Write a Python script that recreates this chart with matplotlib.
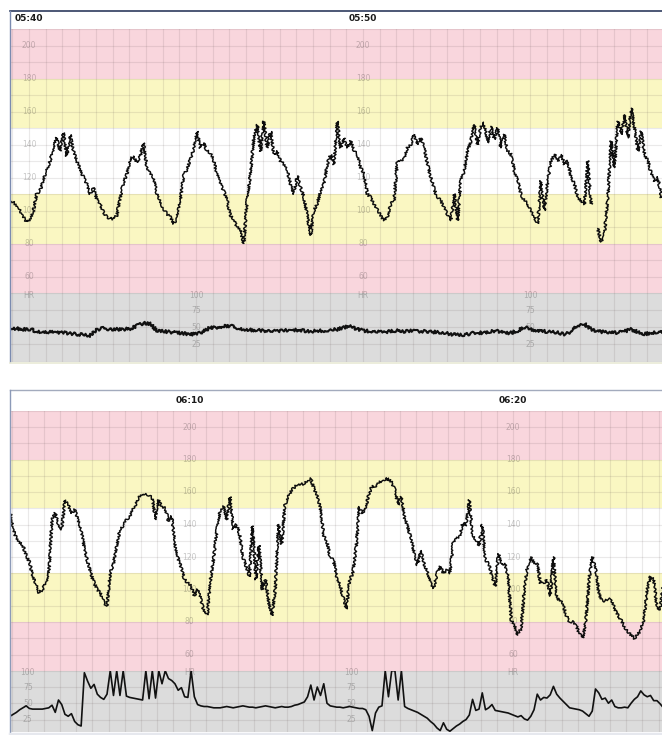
import numpy as np
import matplotlib
matplotlib.use("Agg")
import matplotlib.pyplot as plt
from matplotlib.lines import Line2D
from matplotlib.ticker import MultipleLocator

W, H = 662, 735

# minutes relative to the first labelled mark of each strip (05:40 / 06:10)
top_start = -0.57
bottom_start = -5.55
fhr_step = 0.1
toco_top_step = 0.2
toco_bottom_step = 0.1

top_marks = [0, 10]
top_mark_labels = ["05:40", "05:50"]
bottom_marks = [0, 10]
bottom_mark_labels = ["06:10", "06:20"]
top_toco_marks = [5, 15]
bottom_toco_marks = [-5, 5]

fhr_scale = [60, 80, 100, 120, 140, 160, 180, 200]
toco_scale = [25, 50, 75, 100]
band_edges = [50, 80, 110, 150, 180, 210]
band_colors = ["#f9d6dd", "#faf7c2", "#ffffff", "#faf7c2", "#f9d6dd"]

fhr_top = [
    107, 105, 103, 100, 96, 93, 94, 100, 110, 112,
    119, 124, 130, 138, 144, 136, 147, 133, 146, 136,
    130, 125, 120, 116, 110, 114, 107, 104, 99, 96,
    95, 95, 97, 108, 117, 122, 131, 133, 129, 133,
    141, 126, 122, 120, 110, 105, 101, 98, 96, 92,
    95, 106, 121, 125, 131, 137, 148, 138, 141, 136,
    135, 130, 122, 116, 112, 106, 97, 94, 90, 88,
    80, 106, 122, 144, 152, 136, 154, 138, 148, 134,
    136, 130, 128, 124, 116, 110, 121, 114, 108, 97,
    85, 100, 104, 112, 116, 128, 134,
    128, 154, 138, 144, 138, 142, 136, 134, 126, 122,
    110, 108, 104, 101, 97, 94, 96, 104, 106, 130,
    130, 132, 138, 140, 146, 140, 144, 138, 128, 120,
    113, 108, 106, 102, 97, 94, 110, 94, 118, 124,
    136, 142, 152, 140, 151, 153, 141, 151, 143, 150,
    138, 146, 136, 134, 124, 118, 110, 106, 104, 100,
    96, 92, 118, 100, 118, 130, 134, 130, 134, 128,
    130, 120, 116, 108, 106, 104, 130, 104, np.nan, 89,
    81, 86, 108, 142, 126, 154, 146, 158, 144, 162,
    150, 136, 148, 134, 130, 122, 118, 120, 108,
]

toco_top = [
    49, 48, 47, 47, 44, 43, 43, 42, 42, 41,
    40, 39, 38, 46, 49, 47, 47, 47, 48, 52,
    56, 55, 45, 44, 43, 42, 41, 40, 40, 44,
    50, 49, 52, 52, 49, 47, 46, 46, 45, 45,
    44, 45, 46, 46, 45, 44, 45, 45, 46, 47,
    50, 51, 47, 45, 44, 43, 43, 44, 45, 44,
    45, 44, 44, 43, 43, 42, 40, 39, 39, 41,
    42, 42, 44, 45, 41, 42, 45, 50, 47, 45,
    44, 43, 42, 40, 43, 53, 55, 47, 44, 43,
    42, 42, 44, 47, 43, 40, 42, 43, 44,
]

fhr_bottom = [
    149, 137, 131, 129, 127, 121, 117, 109, 103, 98,
    100, 104, 110, 143, 147, 140, 137, 155, 152, 147,
    149, 143, 137, 126, 117, 110, 104, 100, 98, 92,
    90, 110, 116, 127, 137, 139, 143, 145, 149, 153,
    157, 159, 159, 158, 156, 143, 155, 150, 150, 142,
    145, 128, 119, 113, 106, 104, 102, 96, 100, 94,
    86, 84, 106, 120, 137, 149, 151, 143, 157, 137,
    140, 134, 120, 114, 108, 139, 106, 127, 100, 106,
    92, 84, 100, 140, 128, 152, 157, 161, 163, 165,
    165, 165, 167, 168, 162, 158, 150, 133, 129, 120,
    118, 108, 103, 95, 88, 106, 110, 126, 151, 147,
    151, 159, 164, 163, 166, 167, 168, 168, 166, 161,
    152, 157, 144, 138, 131, 122, 115, 124, 116, 111,
    104, 101, 110, 114, 110, 112, 110, 129, 131, 133,
    141, 139, 155, 133, 131, 127, 140, 118, 116, 108,
    102, 122, 115, 116, 108, 81, 78, 72, 76, 100,
    115, 120, 116, 116, 104, 104, 106, 96, 120, 94,
    94, 90, 84, 80, 80, 78, 73, 70, 80, 106,
    120, 114, 98, 93, 93, 94, 94, 88, 84, 81,
    77, 74, 72, 70, 72, 75, 82, 100, 108, 106,
    88, 88, 104,
]

toco_bottom = [
    30, 33, 36, 40, 43, 46, 42, 41, 41, 41,
    41, 42, 43, 47, 36, 55, 48, 33, 30, 34,
    22, 17, 15, 97, 84, 73, 79, 64, 59, 56,
    64, 100, 62, 100, 62, 100, 61, 59, 58, 57,
    56, 55, 100, 57, 100, 58, 100, 80, 100, 88,
    85, 80, 70, 74, 60, 59, 100, 60, 48, 46,
    45, 45, 44, 43, 43, 43,
    44, 45, 44, 43, 44, 45, 46, 45, 44, 44,
    43, 44, 45, 46, 45, 44, 43, 44, 45, 44,
    44, 45, 47, 48, 50, 52,
    60, 78, 55, 75, 62, 80, 50, 46,
    45, 44, 44, 43, 44, 45, 44, 43, 42, 42, 40,
    30, 8, 35, 44, 46,
    100, 60, 100, 100, 55, 100, 45,
    42, 40, 38, 36, 33, 30, 27, 22, 18, 12, 8,
    20, 10, 7, 11, 15, 18, 22, 25, 32, 56,
    39, 41, 66, 40, 43, 48, 39, 38, 37, 36,
    35, 33, 31, 29, 31, 26, 24, 30, 40, 64,
    55, 59, 58, 63, 76, 64, 58, 53, 48, 43,
    42, 41, 40, 38, 34, 30, 38, 72, 66, 56,
    58, 50, 55, 45, 43, 43, 44, 43, 50, 56,
    60, 69, 63, 60, 62, 54, 54, 49, 43,
]


def fx(px):
    return px / W


def fy(py):
    return 1 - py / H


def strip_axes(fig, top, bottom):
    ax = fig.add_axes([fx(10), fy(bottom), 1 - fx(10), (bottom - top) / H])
    ax.tick_params(length=0, labelbottom=False, labelleft=False)
    for s in ax.spines.values():
        s.set_visible(False)
    ax.xaxis.set_major_locator(MultipleLocator(0.5))
    ax.grid(True, color="#5a4a4a", alpha=0.12, lw=0.8)
    return ax


def scale_text(ax, x, y, s):
    ax.text(x, y, s, ha="center", va="center", fontsize=5.5,
            color="k", alpha=0.22, zorder=2)


def draw_strip(fig, top, split, bottom, xlim, start, fhr, toco, toco_step,
               marks, mark_labels, toco_marks, toco_floor, toco_sketch):
    ax = strip_axes(fig, top, split)
    for lo, hi, c in zip(band_edges[:-1], band_edges[1:], band_colors):
        ax.axhspan(lo, hi, color=c, lw=0, zorder=0)
    t = start + fhr_step * np.arange(len(fhr))
    # the monitor trace is jittery; draw it with a lightly sketched line
    ln, = ax.plot(t, fhr, color="#0d0d0d", lw=1.05, zorder=3)
    ln.set_sketch_params(scale=1.3, length=2.5, randomness=3)
    ax.set_xlim(*xlim)
    ax.set_ylim(50, 210)
    ax.yaxis.set_major_locator(MultipleLocator(10))
    for m, lab in zip(marks, mark_labels):
        for v in fhr_scale:
            scale_text(ax, m, v, str(v))
        ax.annotate(lab, xy=(m, 1), xycoords=("data", "axes fraction"),
                    xytext=(0, 7.4), textcoords="offset points",
                    ha="center", va="center", fontsize=6.5, fontweight="bold",
                    color="#1a1a1a")

    tx = strip_axes(fig, split, bottom)
    tx.set_facecolor("#dcdcdc")
    tt = start + toco_step * np.arange(len(toco))
    tl, = tx.plot(tt, toco, color="#111111", lw=1.5 if toco_sketch else 1.2,
                  zorder=3)
    if toco_sketch:
        tl.set_sketch_params(scale=1.5, length=2.0, randomness=3)
    tx.set_xlim(*xlim)
    tx.set_ylim(toco_floor, 100)
    tx.yaxis.set_major_locator(MultipleLocator(25))
    for m in marks:
        scale_text(tx, m, 97, "HR")
    for m in toco_marks:
        for v in toco_scale:
            scale_text(tx, m, min(v, 97), str(v))
    return ax, tx


fig = plt.figure(figsize=(W / 100, H / 100), dpi=100)
fig.patch.set_facecolor("white")

# 33.4 px per minute on the upper strip, 32.35 on the lower one
draw_strip(fig, 29, 293, 361.5, (-0.569, 18.952), top_start, fhr_top,
           toco_top, toco_top_step, top_marks, top_mark_labels,
           top_toco_marks, 0, True)
draw_strip(fig, 410.75, 670.75, 732, (-5.549, 14.606), bottom_start,
           fhr_bottom, toco_bottom, toco_bottom_step, bottom_marks,
           bottom_mark_labels, bottom_toco_marks, 5.8, False)

# frame lines around the strips
fig.add_artist(Line2D([fx(10), 1], [fy(10.5), fy(10.5)], color="#2d3b5e", lw=1.2))
fig.add_artist(Line2D([fx(10), fx(10)], [fy(10.5), fy(362)], color="#7b8bb0", lw=1.0))
fig.add_artist(Line2D([fx(10), 1], [fy(362.5), fy(362.5)], color="#e9ead6", lw=1.2))
fig.add_artist(Line2D([fx(10), 1], [fy(390), fy(390)], color="#a3abbd", lw=1.0))
fig.add_artist(Line2D([fx(10), fx(10)], [fy(390), 0], color="#8c9ab8", lw=1.0))
fig.add_artist(Line2D([fx(10), 1], [fy(733.5), fy(733.5)], color="#e6e8ee", lw=2.5))

fig.savefig("out.png", dpi=100)
